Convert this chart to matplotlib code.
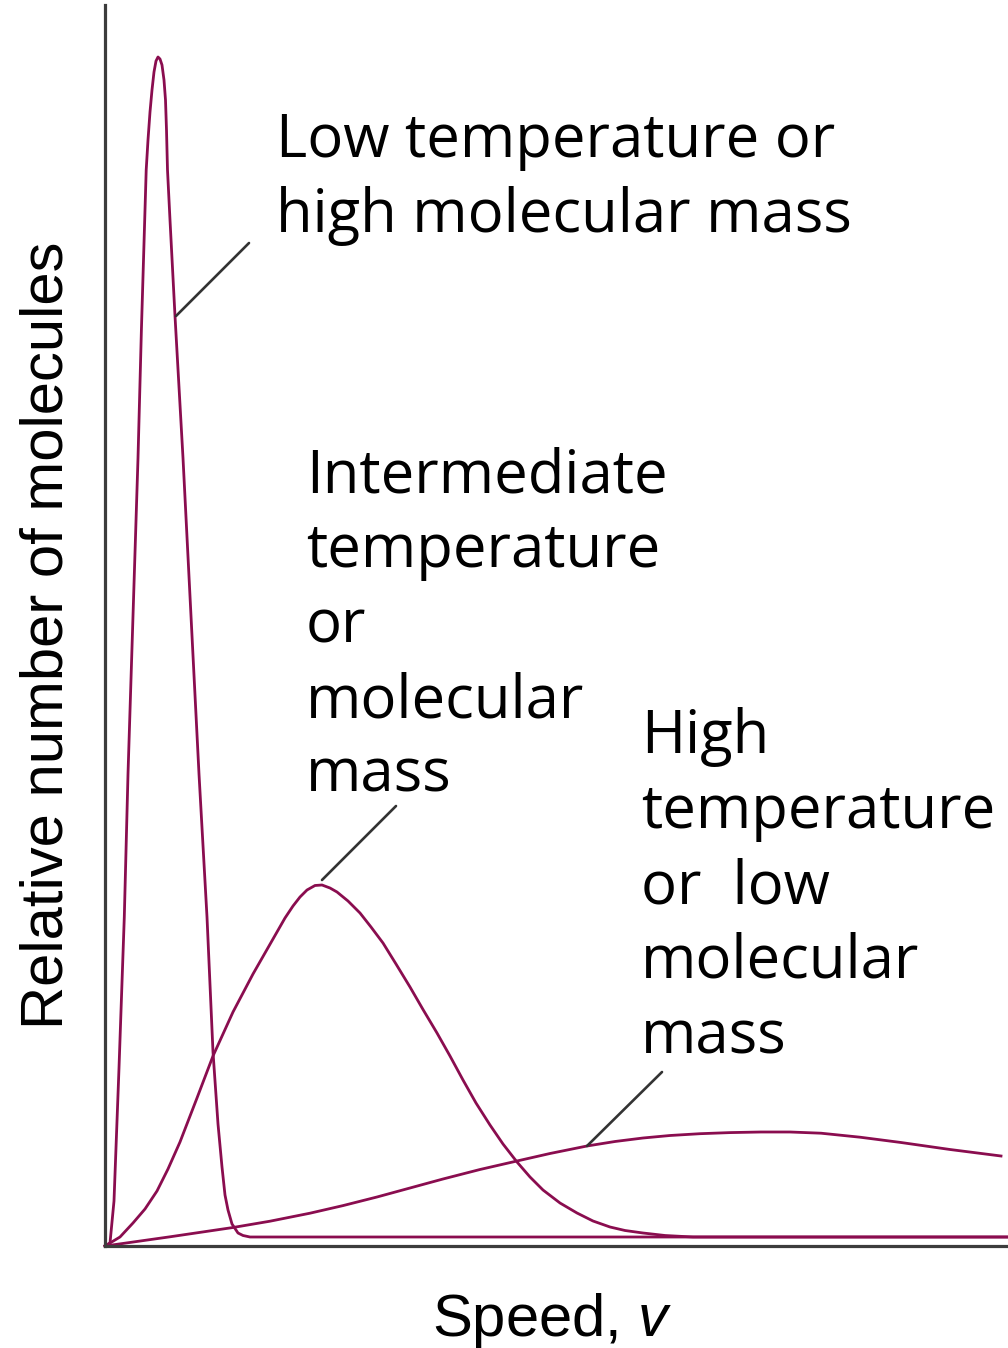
import matplotlib.pyplot as plt

# Maxwell-Boltzmann style speed distributions (arbitrary units)
low_speed = [0, 5, 9, 14, 19.3, 23, 28, 33, 36.4, 39.4, 41.2, 43, 45, 47, 49, 51, 53, 55, 57,
             59, 60.5, 61.5, 62.5, 65, 70, 78, 86, 94, 102, 108, 113, 117, 120, 123, 127, 133,
             138, 145, 903]
low_count = [0, 3, 45, 178, 329, 472, 630, 788, 916, 1016, 1076, 1106, 1134, 1156, 1174, 1185,
             1189, 1187, 1181, 1166, 1146, 1116, 1076, 1026, 930, 788, 630, 472, 329, 194, 122,
             79, 51, 36, 22, 13, 10.5, 9, 9]

mid_speed = [0, 15, 28, 40, 52, 63, 75, 92, 108, 128, 148, 168, 180, 188, 195, 202, 210, 217,
             225, 232, 243, 255, 266, 278, 291, 305, 318, 332, 345, 358, 371, 385, 398, 412,
             425, 438, 455, 472, 488, 505, 520, 538, 560, 588, 903]
mid_count = [0, 9, 23, 37, 55, 77, 104, 148, 190, 234, 272, 307, 328, 340, 349, 356, 360.5, 361,
             358, 354, 345, 333, 319, 303, 282, 259, 236.5, 213, 190, 166, 143, 121, 102, 84,
             69, 56, 43, 33, 25, 19, 15.5, 13, 10.5, 9, 9]

high_speed = [0, 65, 128, 165, 205, 238, 272, 305, 338, 375, 412, 445, 482, 510, 538, 565, 595,
              625, 656, 685, 716, 755, 796, 845, 896]
high_count = [0, 9.2, 18.5, 24.8, 32.8, 40.4, 49, 58, 67, 76.5, 85, 92.5, 100, 104.5, 108, 110.5,
              112.3, 113.4, 114, 114, 112.8, 108.8, 103.5, 96.5, 90]

# label text and the leader line (point on curve, end near the text)
low_label = ["Low temperature or", "high molecular mass"]
mid_label = ["Intermediate", "temperature", "or", "molecular", "mass"]
high_label = ["High", "temperature", "or  low", "molecular", "mass"]
low_leader = [(71, 930), (144, 1003)]
mid_leader = [(217, 366), (291, 440)]
high_leader = [(482, 100), (557, 174)]

curve_color = "#8a0d4f"
W, H = 1008, 1348

fig = plt.figure(figsize=(W / 100, H / 100), dpi=100)
ax = fig.add_axes([105 / W, 102 / H, 903 / W, 1241 / H])

for s, c in [(low_speed, low_count), (mid_speed, mid_count), (high_speed, high_count)]:
    ax.plot(s, c, color=curve_color, lw=2.0, solid_joinstyle="round", clip_on=False)

for (p, q) in [low_leader, mid_leader, high_leader]:
    ax.annotate("", xy=p, xytext=q,
                arrowprops=dict(arrowstyle="-", color="#333333", lw=1.9,
                                shrinkA=0, shrinkB=0))

ax.set_xlim(0, 903)
ax.set_ylim(0, 1241)
ax.set_xticks([])
ax.set_yticks([])
for side in ["top", "right"]:
    ax.spines[side].set_visible(False)
for side in ["left", "bottom"]:
    ax.spines[side].set_color("#3c3c3c")
    ax.spines[side].set_linewidth(2.3)

# annotation text, one baseline every 75 px
label_font = dict(family="Open Sans", fontsize=43, color="black", va="baseline")
for lines, x0, y0 in [(low_label, 276, 157), (mid_label, 306, 492), (high_label, 641, 753)]:
    for i, line in enumerate(lines):
        fig.text(x0 / W, 1 - (y0 + 75 * i) / H, line, **label_font)

plt.rcParams["mathtext.fontset"] = "custom"
plt.rcParams["mathtext.it"] = "Liberation Sans:italic"
fig.text(552 / W, 1 - 1336 / H, r"Speed, $\mathit{v}$", family="Liberation Sans",
         fontsize=43, ha="center", va="baseline")
fig.text(47 / W, 1 - 635 / H, "Relative number of molecules", family="Liberation Sans",
         fontsize=43, rotation=90, ha="center", va="center")

fig.savefig("out.png", dpi=100)
